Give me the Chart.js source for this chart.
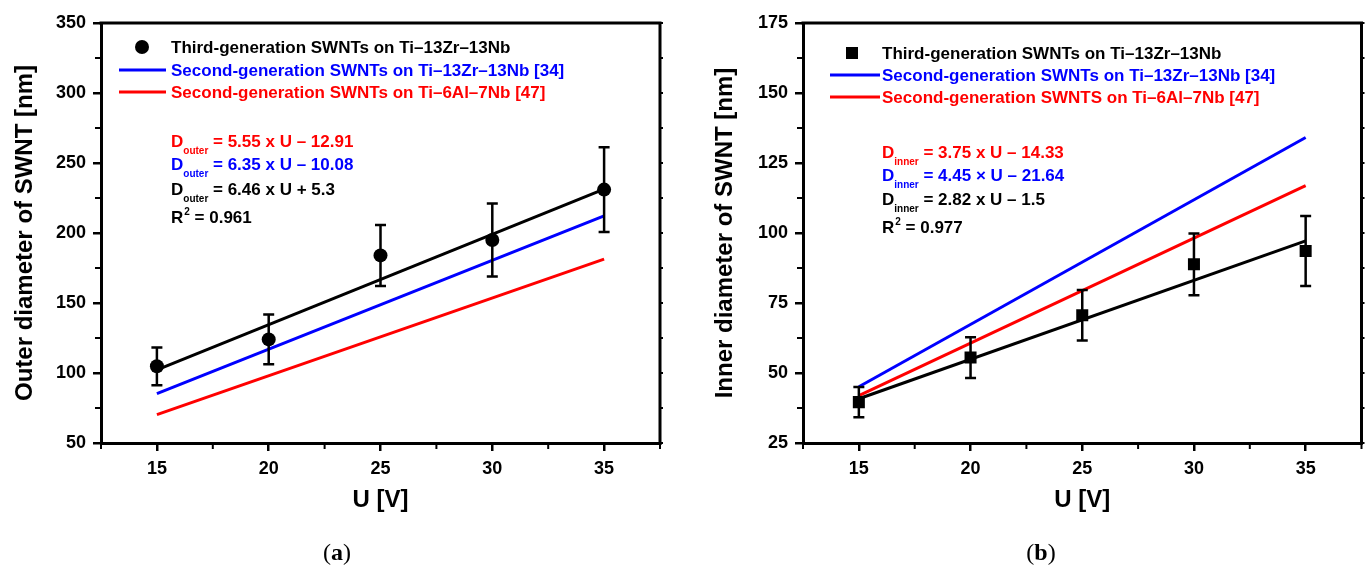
<!DOCTYPE html>
<html><head><meta charset="utf-8">
<script src="https://cdn.jsdelivr.net/npm/chart.js@4.4.1/dist/chart.umd.min.js"></script>
<style>
body{margin:0;background:#fff;width:1370px;height:567px;overflow:hidden;position:relative;font-family:"Liberation Sans",Arial,sans-serif;}
canvas{position:absolute;top:0;}
.cap{position:absolute;font-family:"Liberation Serif","Times New Roman",serif;font-size:24px;transform:translate(-50%,-50%);top:552px;color:#000;}
</style></head><body>
<canvas id="ca" width="685" height="567" style="left:0"></canvas>
<canvas id="cb" width="685" height="567" style="left:685px"></canvas>
<div class="cap" style="left:337px">(<b>a</b>)</div>
<div class="cap" style="left:1041px">(<b>b</b>)</div>
<script>
// ---------- data ----------
const voltage = [15, 20, 25, 30, 35];
const fitRange = [15, 35];

const outerMean = [104.8, 124, 184, 195, 231];
const outerErr = [13.5, 17.8, 21.8, 26, 30.3];
const outerFitThird = [102.2, 231.4];
const outerFitSecondZr = [85.2, 212.2];
const outerFitSecondAl = [70.3, 181.3];

const innerMean = [39.6, 55.5, 70.6, 88.8, 93.6];
const innerErr = [5.4, 7.3, 9, 11, 12.5];
const innerFitThird = [40.8, 97.2];
const innerFitSecondZr = [45.1, 134.1];
const innerFitSecondAl = [41.9, 116.9];

const xTicks = [15, 20, 25, 30, 35];
const xMinorTicks = [12.5, 17.5, 22.5, 27.5, 32.5, 37.5];
const outerTicks = [50, 100, 150, 200, 250, 300, 350];
const outerMinorTicks = [75, 125, 175, 225, 275, 325];
const innerTicks = [25, 50, 75, 100, 125, 150, 175];
const innerMinorTicks = [37.5, 62.5, 87.5, 112.5, 137.5, 162.5];

const legendA = ["Third-generation SWNTs on Ti\u201313Zr\u201313Nb", "Second-generation SWNTs on Ti\u201313Zr\u201313Nb [34]", "Second-generation SWNTs on Ti\u20136Al\u20137Nb [47]"];
const legendB = ["Third-generation SWNTs on Ti\u201313Zr\u201313Nb", "Second-generation SWNTs on Ti\u201313Zr\u201313Nb [34]", "Second-generation SWNTS on Ti\u20136Al\u20137Nb [47]"];
const eqA = [" = 5.55 x U \u2013 12.91", " = 6.35 x U \u2013 10.08", " = 6.46 x U + 5.3", " = 0.961"];
const eqB = [" = 3.75 x U \u2013 14.33", " = 4.45 \u00d7 U \u2013 21.64", " = 2.82 x U \u2013 1.5", " = 0.977"];

const RED = '#ff0000', BLUE = '#0000ff', BLACK = '#000000';
const FONT = '"Liberation Sans", Arial, sans-serif';

function pts(xs, ys) { return xs.map((u, i) => ({x: u, y: ys[i]})); }

function makePanel(id, p) {
  const deco = {
    id: 'deco',
    afterDatasetsDraw(chart) {
      const {ctx, scales: {x, y}} = chart;
      ctx.save();
      ctx.strokeStyle = BLACK; ctx.lineWidth = 2.5;
      voltage.forEach((u, i) => {
        const px = x.getPixelForValue(u);
        const t = y.getPixelForValue(p.mean[i] + p.err[i]);
        const b = y.getPixelForValue(p.mean[i] - p.err[i]);
        ctx.beginPath();
        ctx.moveTo(px, t); ctx.lineTo(px, b);
        ctx.moveTo(px - 5.5, t); ctx.lineTo(px + 5.5, t);
        ctx.moveTo(px - 5.5, b); ctx.lineTo(px + 5.5, b);
        ctx.stroke();
      });
      ctx.restore();
    },
    afterDraw(chart) {
      const {ctx, chartArea: a, scales: {x, y}} = chart;
      ctx.save();
      ctx.strokeStyle = BLACK; ctx.lineWidth = 3;
      ctx.beginPath();
      ctx.moveTo(a.left - 1.5, a.top); ctx.lineTo(a.right, a.top); ctx.lineTo(a.right, a.bottom + 1.5);
      ctx.stroke();
      ctx.lineWidth = 2;
      xMinorTicks.forEach(v => {
        const px = x.getPixelForValue(v);
        ctx.beginPath(); ctx.moveTo(px, a.bottom); ctx.lineTo(px, a.bottom + 6); ctx.stroke();
      });
      p.yMinor.forEach(v => {
        const py = y.getPixelForValue(v);
        ctx.beginPath(); ctx.moveTo(a.left, py); ctx.lineTo(a.left - 6, py); ctx.stroke();
        ctx.beginPath(); ctx.moveTo(a.right, py); ctx.lineTo(a.right + 3, py); ctx.stroke();
      });
      p.yTicks.forEach(v => {
        const py = y.getPixelForValue(v);
        ctx.beginPath(); ctx.moveTo(a.right, py); ctx.lineTo(a.right + 3, py); ctx.stroke();
      });
      // legend
      const L = p.leg;
      ctx.font = 'bold 17px ' + FONT;
      ctx.textBaseline = 'alphabetic';
      ctx.fillStyle = BLACK;
      if (p.square) { ctx.fillRect(L.mx - 6, L.rows[0] - 6, 12, 12); }
      else { ctx.beginPath(); ctx.arc(L.mx, L.rows[0], 7, 0, Math.PI * 2); ctx.fill(); }
      ctx.fillText(p.legend[0], L.tx, L.rows[0] + 6);
      [[BLUE, 1], [RED, 2]].forEach(([c, k]) => {
        ctx.strokeStyle = c; ctx.lineWidth = 3;
        ctx.beginPath(); ctx.moveTo(L.l0, L.rows[k]); ctx.lineTo(L.l1, L.rows[k]); ctx.stroke();
        ctx.fillStyle = c;
        ctx.fillText(p.legend[k], L.tx, L.rows[k] + 6);
      });
      // equations
      const E = p.eqp;
      const cols = [RED, BLUE, BLACK];
      for (let k = 0; k < 3; k++) {
        const by = E.rows[k] + 6;
        ctx.fillStyle = cols[k];
        ctx.font = 'bold 17px ' + FONT;
        ctx.fillText('D', E.x, by);
        const wD = ctx.measureText('D').width;
        ctx.font = 'bold 10px ' + FONT;
        ctx.fillText(p.sub, E.x + wD, by + 7);
        const ws = ctx.measureText(p.sub).width;
        ctx.font = 'bold 17px ' + FONT;
        ctx.fillText(p.eq[k], E.x + wD + ws, by);
      }
      const by = E.rows[3] + 6;
      ctx.fillStyle = BLACK;
      ctx.font = 'bold 17px ' + FONT;
      ctx.fillText('R', E.x, by);
      const wR = ctx.measureText('R').width;
      ctx.font = 'bold 10px ' + FONT;
      ctx.fillText('2', E.x + wR + 1, by - 8);
      const w2 = ctx.measureText('2').width;
      ctx.font = 'bold 17px ' + FONT;
      ctx.fillText(p.eq[3], E.x + wR + w2 + 1, by);
      ctx.restore();
    }
  };

  const tickFont = {family: FONT, weight: 'bold', size: 18};
  const titleFont = {family: FONT, weight: 'bold', size: 24};
  new Chart(document.getElementById(id), {
    type: 'scatter',
    data: {
      datasets: [
        {type: 'scatter', data: pts(voltage, p.mean), backgroundColor: BLACK, borderColor: BLACK, borderWidth: 0,
         pointStyle: p.square ? 'rect' : 'circle', pointRadius: p.square ? 8.5 : 7},
        {type: 'line', data: pts(fitRange, p.fitThird), borderColor: BLACK, borderWidth: 3, pointRadius: 0, fill: false},
        {type: 'line', data: pts(fitRange, p.fitZr), borderColor: BLUE, borderWidth: 3, pointRadius: 0, fill: false},
        {type: 'line', data: pts(fitRange, p.fitAl), borderColor: RED, borderWidth: 3, pointRadius: 0, fill: false}
      ]
    },
    options: {
      responsive: false, animation: false, devicePixelRatio: 1,
      layout: {padding: {top: 23, right: p.padRight, left: 0, bottom: 0}},
      plugins: {legend: {display: false}, tooltip: {enabled: false}},
      scales: {
        x: {
          type: 'linear', min: 12.5, max: 37.5,
          afterBuildTicks: s => { s.ticks = xTicks.map(v => ({value: v})); },
          afterFit: s => { s.height = 124; },
          ticks: {font: tickFont, color: BLACK, padding: 7},
          grid: {drawOnChartArea: false, drawTicks: true, tickLength: 8, color: BLACK, lineWidth: 2.5},
          border: {display: true, color: BLACK, width: 3},
          title: {display: true, text: 'U [V]', font: titleFont, color: BLACK, padding: {top: 0, bottom: 52.6}}
        },
        y: {
          type: 'linear', min: p.yTicks[0], max: p.yTicks[p.yTicks.length - 1],
          afterBuildTicks: s => { s.ticks = p.yTicks.map(v => ({value: v})); },
          afterFit: s => { s.width = p.yWidth; },
          ticks: {font: tickFont, color: BLACK, padding: 7},
          grid: {drawOnChartArea: false, drawTicks: true, tickLength: 8, color: BLACK, lineWidth: 2.5},
          border: {display: true, color: BLACK, width: 3},
          title: {display: true, text: p.yTitle, font: titleFont, color: BLACK, padding: {top: p.titlePad, bottom: 0}}
        }
      }
    },
    plugins: [deco]
  });
}

makePanel('ca', {
  mean: outerMean, err: outerErr, fitThird: outerFitThird, fitZr: outerFitSecondZr, fitAl: outerFitSecondAl,
  yTicks: outerTicks, yMinor: outerMinorTicks, yWidth: 101, padRight: 25, titlePad: 10.6,
  yTitle: 'Outer diameter of SWNT [nm]', square: false, legend: legendA, eq: eqA, sub: 'outer',
  leg: {mx: 142, tx: 171, l0: 119, l1: 166, rows: [47, 70, 92]},
  eqp: {x: 171, rows: [141, 164, 189, 217]}
});
makePanel('cb', {
  mean: innerMean, err: innerErr, fitThird: innerFitThird, fitZr: innerFitSecondZr, fitAl: innerFitSecondAl,
  yTicks: innerTicks, yMinor: innerMinorTicks, yWidth: 118, padRight: 6, titlePad: 25.6,
  yTitle: 'Inner diameter of SWNT [nm]', square: true, legend: legendB, eq: eqB, sub: 'inner',
  leg: {mx: 167, tx: 197, l0: 145, l1: 195, rows: [53, 75, 97]},
  eqp: {x: 197, rows: [152, 175, 199, 227]}
});
</script>
</body></html>
